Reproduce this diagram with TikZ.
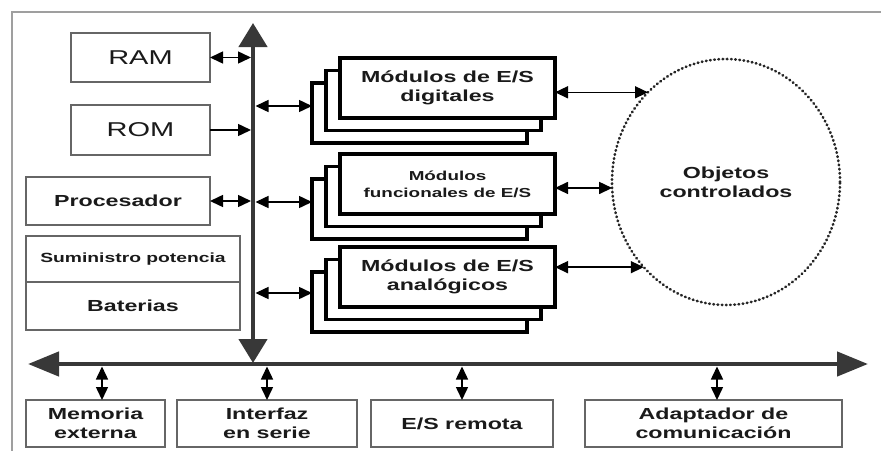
\documentclass[tikz,border=0pt]{standalone}
\usepackage{fontspec}
\setmainfont{Liberation Sans}[FakeStretch=1.45]
\usetikzlibrary{arrows.meta,shapes.geometric}
\definecolor{boxgray}{HTML}{666666}
\definecolor{busgray}{HTML}{383838}
\definecolor{txt}{HTML}{1A1A1A}
\begin{document}
\begin{tikzpicture}[x=1pt,y=-1pt,
  sbox/.style={draw=boxgray, line width=2.2pt, fill=white, inner sep=0pt, outer sep=0pt, align=center, text=txt, anchor=north west, font=\fontsize{16}{19}\selectfont\bfseries},
  mbox/.style={draw=black, line width=3.6pt, fill=white, inner sep=0pt, outer sep=0pt, minimum width=215pt, minimum height=60pt, anchor=north west, align=center, text=txt, font=\fontsize{16}{19}\selectfont\bfseries},
  darr/.style={line width=1.5pt, {Triangle[length=13pt,width=12pt]}-{Triangle[length=13pt,width=12pt]}},
  sarr/.style={line width=1.5pt, -{Triangle[length=13pt,width=12pt]}},
  bus/.style={line width=4.5pt, draw=busgray}]
\useasboundingbox (0,0) rectangle (881,450);
\clip (0,0) rectangle (881,450);
\fill[white] (0,0) rectangle (881,450);
% frame
\draw[line width=2.6pt, draw=gray!75] (12,460) -- (12,12) -- (890,12);

% left boxes
\node[sbox, minimum width=139pt, minimum height=49pt, font=\fontsize{20}{24}\selectfont] (ram) at (71,33) {RAM};
\node[sbox, minimum width=139pt, minimum height=50pt, font=\fontsize{20}{24}\selectfont] (rom) at (71,105) {ROM};
\node[sbox, minimum width=184pt, minimum height=48pt] (proc) at (26,177) {Procesador};
\node[sbox, minimum width=214pt, minimum height=46pt, font=\fontsize{13.3}{16}\selectfont\bfseries] (sum) at (26,236) {Suministro potencia};
\node[sbox, minimum width=214pt, minimum height=48pt] (bat) at (26,282) {Baterias};

% buses
\coordinate (vt) at (253,23);
\coordinate (vb) at (253,363);
\coordinate (hl) at (28,364);
\coordinate (hr) at (868,364);
\coordinate (busL) at (251,0);
\coordinate (busR) at (255.5,0);
\coordinate (hb) at (0,366.5);
\draw[bus, {Triangle[length=24pt,width=28pt]}-{Triangle[length=24pt,width=28pt]}] (vb) -- (vt);
\draw[bus, {Triangle[length=31pt,width=24pt]}-{Triangle[length=31pt,width=24pt]}] (hl) -- (hr);

% module stacks
\node[mbox] (dig2) at (312,83) {};
\node[mbox] (dig1) at (326,70.5) {};
\node[mbox] (dig) at (340,58) {Módulos de E/S\\digitales};
\node[mbox] (fun2) at (312,179) {};
\node[mbox] (fun1) at (326,166.5) {};
\node[mbox, font=\fontsize{13}{17}\selectfont\bfseries] (fun) at (340,154) {Módulos\\funcionales de E/S};
\node[mbox] (ana2) at (312,272) {};
\node[mbox] (ana1) at (326,259.5) {};
\node[mbox] (ana) at (340,247) {Módulos de E/S\\analógicos};

% controlled objects
\node[ellipse, draw=black!85, line width=2.7pt, dash pattern=on 0.6pt off 3.6pt, line cap=round,
      minimum width=228pt, minimum height=246pt, inner sep=0pt, outer sep=0pt, align=center, text=txt,
      font=\fontsize{16}{19}\selectfont\bfseries] (obj) at (726,182) {Objetos\\controlados};

% bottom boxes
\node[sbox, minimum width=139pt, minimum height=47pt] (mem) at (26,400) {Memoria\\externa};
\node[sbox, minimum width=180pt, minimum height=47pt] (inter) at (177,400) {Interfaz\\en serie};
\node[sbox, minimum width=182pt, minimum height=47pt] (esr) at (371,400) {E/S remota};
\node[sbox, minimum width=257pt, minimum height=47pt] (adap) at (585,400) {Adaptador de\\comunicación};

% left connectors
\draw[darr] (ram.east) -- (ram.east -| busL);
\draw[sarr] (rom.east) -- (rom.east -| busL);
\draw[darr] (proc.east) -- (proc.east -| busL);

% bus to modules
\draw[darr] ([yshift=7pt]dig2.west -| busR) -- ([yshift=7pt]dig2.west);
\draw[darr] ([yshift=7pt]fun2.west -| busR) -- ([yshift=7pt]fun2.west);
\draw[darr] ([yshift=9pt]ana2.west -| busR) -- ([yshift=9pt]ana2.west);

% modules to objects
\draw[darr] (dig.east |- obj.131) -- (obj.131);
\draw[darr] (fun.east |- obj.183) -- (obj.183);
\draw[darr] (ana.east |- obj.226.4) -- (obj.226.4);

% bus to bottom boxes
\draw[darr] (hb -| 102,0) -- (mem.north -| 102,0);
\draw[darr] (hb -| inter.north) -- (inter.north);
\draw[darr] (hb -| esr.north) -- (esr.north);
\draw[darr] (hb -| 717,0) -- (adap.north -| 717,0);
\end{tikzpicture}
\end{document}
